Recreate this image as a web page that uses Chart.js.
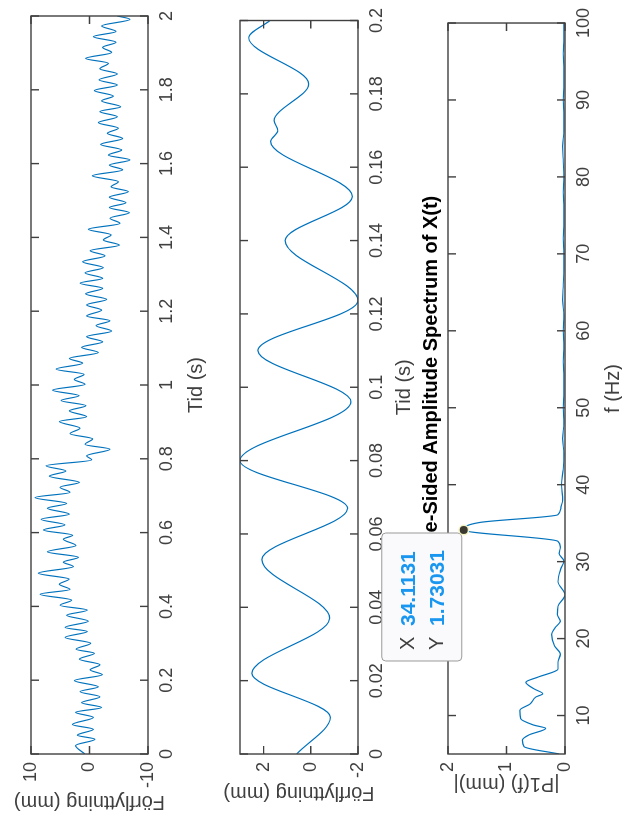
<!DOCTYPE html>
<html>
<head>
<meta charset="utf-8">
<script src="https://cdn.jsdelivr.net/npm/chart.js@4.4.0/dist/chart.umd.min.js"></script>
<style>
  html, body { margin: 0; padding: 0; background: #fff; overflow: hidden; }
  /* the figure is drawn upright (828 x 622) and then turned a quarter left */
  #fig { position: absolute; left: 0; top: 0; width: 828px; height: 622px;
         transform-origin: 0 0; transform: translateY(828px) rotate(-90deg); background: #fff; }
  #fig canvas { position: absolute; left: 0; }
</style>
</head>
<body>
<div id="fig">
  <canvas id="c1" width="828" height="220" style="top:0px"></canvas>
  <canvas id="c2" width="828" height="220" style="top:207px"></canvas>
  <canvas id="c3" width="828" height="270" style="top:370px"></canvas>
</div>
<script>
// subplot 1: displacement over 2 s (peaks and troughs)
const tid1 = [0, 0.023, 0.040, 0.051, 0.067, 0.080, 0.099, 0.113, 0.126, 0.139,
  0.155, 0.169, 0.182, 0.199, 0.215, 0.228, 0.242, 0.257, 0.273, 0.284,
  0.300, 0.316, 0.332, 0.343, 0.360, 0.376, 0.390, 0.403, 0.417, 0.433,
  0.446, 0.460, 0.474, 0.490, 0.508, 0.520, 0.533, 0.548, 0.565, 0.582,
  0.593, 0.607, 0.621, 0.636, 0.650, 0.666, 0.679, 0.695, 0.709, 0.723,
  0.736, 0.753, 0.767, 0.781, 0.797, 0.808, 0.826, 0.839, 0.854, 0.868,
  0.883, 0.901, 0.914, 0.930, 0.944, 0.958, 0.971, 0.986, 1.002, 1.015,
  1.029, 1.043, 1.059, 1.072, 1.088, 1.102, 1.117, 1.131, 1.146, 1.161,
  1.174, 1.187, 1.203, 1.217, 1.232, 1.247, 1.262, 1.276, 1.289, 1.304,
  1.318, 1.334, 1.350, 1.364, 1.379, 1.393, 1.407, 1.422, 1.438, 1.452,
  1.467, 1.481, 1.494, 1.509, 1.524, 1.537, 1.551, 1.567, 1.583, 1.596,
  1.610, 1.623, 1.637, 1.652, 1.668, 1.682, 1.696, 1.711, 1.727, 1.741,
  1.754, 1.770, 1.783, 1.798, 1.813, 1.827, 1.843, 1.857, 1.872, 1.885,
  1.901, 1.915, 1.929, 1.944, 1.958, 1.973, 1.991, 2.000];
const pos1 = [0.8, 2.36, -0.94, 2.08, -0.66, 2.93, -0.66, 2.36, -2.08, 1.34,
  -1.79, 1.62, -1.51, 2.59, -2.19, -0.09, -1.79, 1.74, -0.83, 2.31,
  -0.2, 4.19, 0.37, 4.19, 0.2, 3.9, 0.37, 5.04, 3.05, 8.46,
  3.33, 5.16, 3.5, 8.75, 2.76, 4.47, 1.91, 7.21, 2.31, 4.47,
  2.88, 7.89, 4.19, 8.29, 3.45, 7.21, 3.9, 9.32, 3.33, 5.04,
  1.74, 6.87, 4.02, 7.44, -0.37, 0.48, -3.5, 0.77, -0.54, 3.33,
  1.62, 5.16, 0.48, 3.45, 0.6, 4.87, 1.79, 6.3, 0.77, 2.59,
  0.94, 5.73, 1.17, 3.45, -1.51, 1.34, -2.25, 0.48, -3.79, -1.11,
  -3.5, 0.48, -2.08, 0.48, -2.93, 0.66, -2.25, 1.62, -2.25, 0.77,
  -2.36, 1.17, -2.65, -0.09, -5.1, -2.36, -3.68, 0.2, -5.21, -3.5,
  -6.81, -3.39, -6.24, -3.39, -6.64, -3.68, -4.93, -0.48, -5.67, -3.39,
  -6.92, -3.22, -5.5, -1.91, -5.67, -3.05, -4.93, -1.51, -4.76, -1.79,
  -5.33, -2.08, -4.07, -0.83, -4.76, -1.62, -4.76, -1.79, -3.22, 0.66,
  -3.79, -2.25, -4.53, -0.66, -4.53, -2.08, -6.92, -4.76];

// subplot 2: first 0.2 s
const tid2 = [0, 0.010, 0.022, 0.037, 0.053, 0.067, 0.080, 0.096, 0.110, 0.1236,
  0.140, 0.152, 0.167, 0.170, 0.1727, 0.1827, 0.1953, 0.2];
const pos2 = [0.6, -0.83, 2.5, -0.8, 2.07, -1.56, 3.0, -1.7, 2.24, -2.0,
  1.09, -1.76, 1.70, 1.40, 1.55, 0.09, 2.63, 1.73];

// subplot 3: single-sided amplitude spectrum
const freq3 = [5, 5.96, 6.82, 7.47, 8.33, 8.75, 9.61, 10.68, 11.54, 12.4,
  12.83, 13.47, 14.33, 14.97, 16.05, 16.9, 17.97, 19.05, 20.55, 21.4,
  22.27, 23.13, 24.2, 25.7, 27.4, 29.1, 30.07, 31.05, 31.9, 32.65,
  34.1131, 35.1, 36.1, 37, 38, 40, 42, 44, 46, 48,
  50, 52, 54, 56, 58, 60, 62, 64, 66, 68,
  70, 72, 74, 76, 78, 80, 82, 84, 86, 88,
  90, 92, 94, 96, 98, 100];
const amp3 = [0.1, 0.70, 0.73, 0.62, 0.33, 0.53, 0.76, 0.77, 0.59, 0.5,
  0.38, 0.53, 0.67, 0.47, 0.12, 0.12, 0.08, 0.18, 0.23, 0.17,
  0.08, 0.13, 0.12, 0.0, 0.12, 0.07, 0.02, 0.1, 0.08, 0.12,
  1.73031, 1.45, 0.12, 0.07, 0.04, 0.06, 0.03, 0.02, 0.04, 0.02,
  0.03, 0.02, 0.02, 0.03, 0.02, 0.03, 0.02, 0.04, 0.03, 0.02,
  0.02, 0.03, 0.02, 0.02, 0.03, 0.02, 0.03, 0.04, 0.02, 0.02,
  0.03, 0.02, 0.02, 0.03, 0.02, 0.02];

const tidTicks1 = [0, 0.2, 0.4, 0.6, 0.8, 1, 1.2, 1.4, 1.6, 1.8, 2];
const posTicks1 = [-10, 0, 10];
const tidTicks2 = [0, 0.02, 0.04, 0.06, 0.08, 0.1, 0.12, 0.14, 0.16, 0.18, 0.2];
const posTicks2 = [-2, 0, 2];
const freqTicks = [10, 20, 30, 40, 50, 60, 70, 80, 90, 100];
const ampTicks = [0, 1, 2];
const tipX = 34.1131, tipY = 1.73031;

const lineBlue = '#0072BD';
const axisGrey = '#404040';
const fontFam = '"Liberation Sans", Arial, Helvetica, sans-serif';
Chart.defaults.font.family = fontFam;

// MATLAB style box with inward ticks on all four sides
const boxPlugin = {
    id: 'matlabBox',
    afterDatasetsDraw(chart) {
        const {ctx, chartArea: a, scales: {x, y}} = chart;
        const len = 8;
        ctx.save();
        ctx.strokeStyle = axisGrey;
        ctx.lineWidth = 1.4;
        ctx.beginPath();
        x.ticks.forEach(t => {
            const p = x.getPixelForValue(t.value);
            ctx.moveTo(p, a.bottom); ctx.lineTo(p, a.bottom - len);
            ctx.moveTo(p, a.top); ctx.lineTo(p, a.top + len);
        });
        y.ticks.forEach(t => {
            const p = y.getPixelForValue(t.value);
            ctx.moveTo(a.left, p); ctx.lineTo(a.left + len, p);
            ctx.moveTo(a.right, p); ctx.lineTo(a.right - len, p);
        });
        ctx.stroke();
        ctx.strokeRect(a.left, a.top, a.right - a.left, a.bottom - a.top);
        ctx.restore();
    }
};

// data tip on the spectrum peak
const tipPlugin = {
    id: 'dataTip',
    afterDraw(chart) {
        const {ctx, scales: {x, y}} = chart;
        const px = x.getPixelForValue(tipX), py = y.getPixelForValue(tipY);
        const w = 128, h = 80;
        const bx = px - 3 - w, by = py - 2 - h;
        ctx.save();
        ctx.beginPath();
        ctx.roundRect(bx, by, w, h, 4);
        ctx.fillStyle = '#fafafc';
        ctx.fill();
        ctx.strokeStyle = '#9a9a9a';
        ctx.lineWidth = 1;
        ctx.stroke();
        ctx.textBaseline = 'middle';
        ctx.textAlign = 'left';
        ctx.fillStyle = axisGrey;
        ctx.font = '20px ' + fontFam;
        ctx.fillText('X', bx + 11, by + 27);
        ctx.fillText('Y', bx + 11, by + 56);
        ctx.fillStyle = '#1996f0';
        ctx.font = 'bold 21px ' + fontFam;
        ctx.fillText(tipX.toString(), bx + 35, by + 27);
        ctx.fillText(tipY.toString(), bx + 35, by + 56);
        ctx.beginPath();
        ctx.arc(px, py, 5.5, 0, Math.PI * 2);
        ctx.fillStyle = '#f6f3c4';
        ctx.fill();
        ctx.beginPath();
        ctx.arc(px, py, 4, 0, Math.PI * 2);
        ctx.fillStyle = '#3a3a30';
        ctx.fill();
        ctx.restore();
    }
};

function fmt(v) {
    return String(Math.round(v * 1000) / 1000);
}

function makeScales(o) {
    return {
        x: {
            type: 'linear', min: o.xMin, max: o.xMax,
            afterBuildTicks: s => { s.ticks = o.xTicks.map(v => ({value: v})); },
            afterFit: s => { s.height = o.xHeight; },
            grid: {display: false, drawTicks: false},
            border: {display: false},
            ticks: {autoSkip: false, maxRotation: 0, padding: 8, color: axisGrey,
                    font: {size: 18}, callback: v => fmt(v)},
            title: {display: true, text: o.xTitle, color: axisGrey, font: {size: 20},
                    padding: {top: 0, bottom: o.xTitlePad}}
        },
        y: {
            type: 'linear', min: o.yMin, max: o.yMax,
            afterBuildTicks: s => { s.ticks = o.yTicks.map(v => ({value: v})); },
            afterFit: s => { s.width = 74; },
            grid: {display: false, drawTicks: false},
            border: {display: false},
            ticks: {padding: 8, color: axisGrey, font: {size: 18}, callback: v => fmt(v)},
            title: {display: true, text: o.yTitle, color: axisGrey, font: {size: 20},
                    padding: {top: o.yTitlePad, bottom: 0}}
        }
    };
}

function lineData(xs, ys) {
    return {
        datasets: [{
            data: xs.map((v, i) => ({x: v, y: ys[i]})),
            borderColor: lineBlue,
            borderWidth: 1.2,
            pointRadius: 0,
            cubicInterpolationMode: 'monotone',
            fill: false
        }]
    };
}

new Chart(document.getElementById('c1'), {
    type: 'line',
    data: lineData(tid1, pos1),
    options: {
        responsive: false, animation: false,
        layout: {padding: {top: 31, right: 16, bottom: 0, left: 0}},
        plugins: {legend: {display: false}, tooltip: {enabled: false}},
        scales: makeScales({xMin: 0, xMax: 2, xTicks: tidTicks1, xTitle: 'Tid (s)', xHeight: 72, xTitlePad: 12,
                            yMin: -10, yMax: 10, yTicks: posTicks1, yTitle: 'Förflyttning (mm)', yTitlePad: 14})
    },
    plugins: [boxPlugin]
});

new Chart(document.getElementById('c2'), {
    type: 'line',
    data: lineData(tid2, pos2),
    options: {
        responsive: false, animation: false,
        layout: {padding: {top: 33, right: 16, bottom: 0, left: 0}},
        plugins: {legend: {display: false}, tooltip: {enabled: false}},
        scales: makeScales({xMin: 0, xMax: 0.2, xTicks: tidTicks2, xTitle: 'Tid (s)', xHeight: 69, xTitlePad: 11,
                            yMin: -2, yMax: 3, yTicks: posTicks2, yTitle: 'Förflyttning (mm)', yTitlePad: 23})
    },
    plugins: [boxPlugin]
});

new Chart(document.getElementById('c3'), {
    type: 'line',
    data: lineData(freq3, amp3),
    options: {
        responsive: false, animation: false,
        layout: {padding: {top: 0, right: 16, bottom: 0, left: 0}},
        plugins: {
            legend: {display: false}, tooltip: {enabled: false},
            title: {display: true, text: 'Single-Sided Amplitude Spectrum of X(t)', color: '#000',
                    font: {size: 20, weight: 'bold'}, padding: {top: 49, bottom: 5}, fullSize: false}
        },
        scales: makeScales({xMin: 5, xMax: 100, xTicks: freqTicks, xTitle: 'f (Hz)', xHeight: 75, xTitlePad: 15,
                            yMin: 0, yMax: 2, yTicks: ampTicks, yTitle: '|P1(f) (mm)|', yTitlePad: 32})
    },
    plugins: [boxPlugin, tipPlugin]
});
</script>
</body>
</html>
